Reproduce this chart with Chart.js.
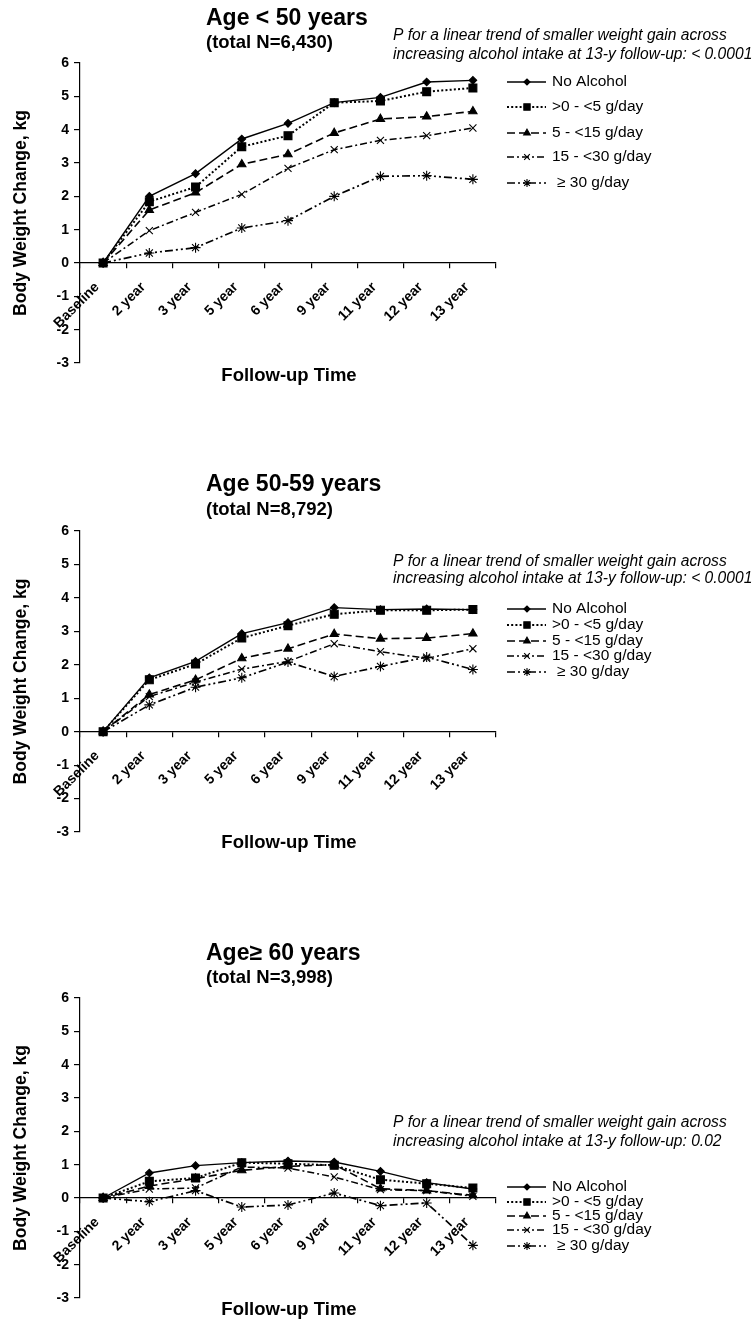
<!DOCTYPE html>
<html>
<head>
<meta charset="utf-8">
<script src="https://cdn.jsdelivr.net/npm/chart.js@4.4.0/dist/chart.umd.min.js"></script>
<style>
html,body{margin:0;padding:0;background:#fff;}
body{width:755px;height:1323px;position:relative;overflow:hidden;}
.panel{position:absolute;left:0;width:755px;height:441px;}
canvas{display:block;}
</style>
</head>
<body>
<div class="panel" style="top:0px"><canvas id="c1" width="755" height="441"></canvas></div>
<div class="panel" style="top:441px"><canvas id="c2" width="755" height="441"></canvas></div>
<div class="panel" style="top:882px"><canvas id="c3" width="755" height="441"></canvas></div>
<script>
// ---------- DATA ----------
const categories = ['Baseline', '2 year', '3 year', '5 year', '6 year', '9 year', '11 year', '12 year', '13 year'];
const seriesNames = ['No Alcohol', '>0 - <5 g/day', '5 - <15 g/day', '15 - <30 g/day', '\u2265 30 g/day'];
const yMin = -3, yMax = 6, yStep = 1;

// Age < 50 years
const lt50_none  = [0, 2.00, 2.68, 3.72, 4.19, 4.81, 4.97, 5.43, 5.48];
const lt50_lt5   = [0, 1.84, 2.28, 3.49, 3.82, 4.81, 4.86, 5.14, 5.25];
const lt50_5to15 = [0, 1.59, 2.11, 2.96, 3.26, 3.90, 4.32, 4.39, 4.55];
const lt50_15to30= [0, 0.97, 1.52, 2.06, 2.84, 3.40, 3.68, 3.82, 4.05];
const lt50_ge30  = [0, 0.30, 0.46, 1.05, 1.27, 2.00, 2.60, 2.62, 2.51];

// Age 50-59 years
const a5059_none  = [0, 1.61, 2.10, 2.93, 3.26, 3.71, 3.65, 3.67, 3.65];
const a5059_lt5   = [0, 1.55, 2.02, 2.80, 3.17, 3.51, 3.63, 3.63, 3.65];
const a5059_5to15 = [0, 1.11, 1.55, 2.19, 2.48, 2.92, 2.78, 2.80, 2.93];
const a5059_15to30= [0, 1.05, 1.48, 1.87, 2.10, 2.63, 2.39, 2.19, 2.48];
const a5059_ge30  = [0, 0.80, 1.33, 1.61, 2.08, 1.65, 1.95, 2.23, 1.86];

// Age >= 60 years
const ge60_none  = [0, 0.75, 0.97, 1.06, 1.11, 1.08, 0.80, 0.46, 0.27];
const ge60_lt5   = [0, 0.50, 0.60, 1.06, 1.03, 0.98, 0.55, 0.43, 0.30];
const ge60_5to15 = [0, 0.36, 0.58, 0.83, 0.95, 1.00, 0.28, 0.22, 0.08];
const ge60_15to30= [0, 0.27, 0.30, 0.93, 0.90, 0.63, 0.25, 0.22, 0.05];
const ge60_ge30  = [0, -0.11, 0.22, -0.27, -0.21, 0.15, -0.23, -0.15, -1.42];

const pLine1 = 'P for a linear trend of smaller weight gain across';
const pLine2a = 'increasing alcohol intake at 13-y follow-up: < 0.0001';
const pLine2c = 'increasing alcohol intake at 13-y follow-up: 0.02';

// ---------- STYLE ----------
const FAM = '"Liberation Sans", Arial, Helvetica, sans-serif';
const seriesStyles = [
  {dash: [],            pointStyle: 'rectRot',  radius: 3.8, width: 1.4, fill: true},
  {dash: [2, 2.2],      pointStyle: 'rect',     radius: 5.6, width: 2.0, fill: true},
  {dash: [8, 4],        pointStyle: 'triangle', radius: 4.8, width: 1.6, fill: true},
  {dash: [7, 3, 2, 3],  pointStyle: 'crossRot', radius: 5.0, width: 1.5, fill: false},
  {dash: [8, 3, 2, 3, 2, 3], pointStyle: 'star', radius: 5.0, width: 1.7, fill: false}
];

const annotPlugin = {
  id: 'annot',
  afterDraw(chart, args, o) {
    const ctx = chart.ctx;
    const T = o.top;
    ctx.save();
    ctx.fillStyle = '#000';
    ctx.textBaseline = 'middle';
    ctx.textAlign = 'left';
    ctx.font = 'bold 23px ' + FAM;
    ctx.fillText(o.title, 206, o.titleY - T);
    ctx.font = 'bold 18.5px ' + FAM;
    ctx.fillText(o.subtitle, 206, o.subY - T);
    ctx.font = 'italic 15.6px ' + FAM;
    ctx.fillText(o.p1, 393, o.pY[0] - T);
    ctx.fillText(o.p2, 393, o.pY[1] - T);
    ctx.font = 'bold 18.5px ' + FAM;
    ctx.textAlign = 'center';
    ctx.fillText('Follow-up Time', 289, o.xTitleY - T);
    // legend
    chart.data.datasets.forEach((ds, i) => {
      const y = o.legendY[i] - T;
      ctx.save();
      ctx.strokeStyle = '#000';
      ctx.lineWidth = ds.borderWidth;
      ctx.setLineDash(ds.borderDash || []);
      ctx.beginPath();
      ctx.moveTo(507, y);
      ctx.lineTo(546, y);
      ctx.stroke();
      ctx.setLineDash([]);
      ctx.fillStyle = ds.pointBackgroundColor;
      ctx.strokeStyle = '#000';
      ctx.lineWidth = ds.pointBorderWidth;
      Chart.helpers.drawPoint(ctx, {pointStyle: ds.pointStyle, radius: ds.pointRadius * 0.8, rotation: 0, borderWidth: ds.pointBorderWidth}, 527, y);
      ctx.restore();
      ctx.fillStyle = '#000';
      ctx.textAlign = 'left';
      ctx.textBaseline = 'middle';
      ctx.font = '15.5px ' + FAM;
      ctx.fillText(ds.label, i === 4 ? 557 : 552, y);
    });
    ctx.restore();
  }
};

function makePanel(id, seriesArrays, opts) {
  const datasets = seriesArrays.map((arr, i) => {
    const s = seriesStyles[i];
    return {
      label: seriesNames[i],
      data: arr,
      borderColor: '#000',
      backgroundColor: '#000',
      borderWidth: s.width,
      borderDash: s.dash,
      pointStyle: s.pointStyle,
      pointRadius: s.radius,
      pointBackgroundColor: s.fill ? '#000' : 'rgba(0,0,0,0)',
      pointBorderColor: '#000',
      pointBorderWidth: 1.1,
      tension: 0,
      fill: false
    };
  });
  const plotTop = opts.plotTop - opts.top;
  const plotBottom = opts.plotBottom - opts.top;
  new Chart(document.getElementById(id), {
    type: 'line',
    data: { labels: categories, datasets },
    plugins: [annotPlugin],
    options: {
      responsive: false,
      animation: false,
      devicePixelRatio: 1,
      layout: { padding: { left: 0, right: 755 - 496, top: plotTop, bottom: 441 - plotBottom } },
      plugins: {
        legend: { display: false },
        tooltip: { enabled: false },
        title: { display: false },
        annot: opts
      },
      scales: {
        x: {
          type: 'category',
          offset: true,
          position: { y: 0 },
          border: { display: true, color: '#000', width: 1.2 },
          grid: { display: true, drawOnChartArea: false, drawTicks: true, tickLength: 5, color: '#000', offset: true, lineWidth: 1.2 },
          ticks: { autoSkip: false, minRotation: 45, maxRotation: 45, color: '#000', padding: 11, labelOffset: -6,
                   font: { family: FAM, size: 14, weight: 'bold' } }
        },
        y: {
          min: yMin, max: yMax,
          position: 'left',
          border: { display: true, color: '#000', width: 1.2 },
          grid: { drawOnChartArea: false, drawTicks: true, tickLength: 6, color: '#000', lineWidth: 1.2 },
          ticks: { stepSize: yStep, color: '#000', padding: 5, font: { family: FAM, size: 14, weight: 'bold' } },
          title: { display: true, text: 'Body Weight Change, kg', color: '#000',
                   font: { family: FAM, size: 17.5, weight: 'bold' }, padding: { top: 11, bottom: 0 } },
          afterFit(s) { s.width = 80; }
        }
      }
    }
  });
}

makePanel('c1', [lt50_none, lt50_lt5, lt50_5to15, lt50_15to30, lt50_ge30], {
  top: 0, plotTop: 63, plotBottom: 363,
  title: 'Age < 50 years', titleY: 19, subtitle: '(total N=6,430)', subY: 43,
  p1: pLine1, p2: pLine2a, pY: [36, 55],
  legendY: [82, 107, 133, 157, 183], xTitleY: 376
});
makePanel('c2', [a5059_none, a5059_lt5, a5059_5to15, a5059_15to30, a5059_ge30], {
  top: 441, plotTop: 531, plotBottom: 832,
  title: 'Age 50-59 years', titleY: 485, subtitle: '(total N=8,792)', subY: 510,
  p1: pLine1, p2: pLine2a, pY: [562, 579],
  legendY: [609, 625, 641, 656, 672], xTitleY: 843
});
makePanel('c3', [ge60_none, ge60_lt5, ge60_5to15, ge60_15to30, ge60_ge30], {
  top: 882, plotTop: 998, plotBottom: 1298,
  title: 'Age\u2265 60 years', titleY: 954, subtitle: '(total N=3,998)', subY: 978,
  p1: pLine1, p2: pLine2c, pY: [1123, 1142],
  legendY: [1187, 1202, 1216, 1230, 1246], xTitleY: 1310
});
</script>
</body>
</html>
